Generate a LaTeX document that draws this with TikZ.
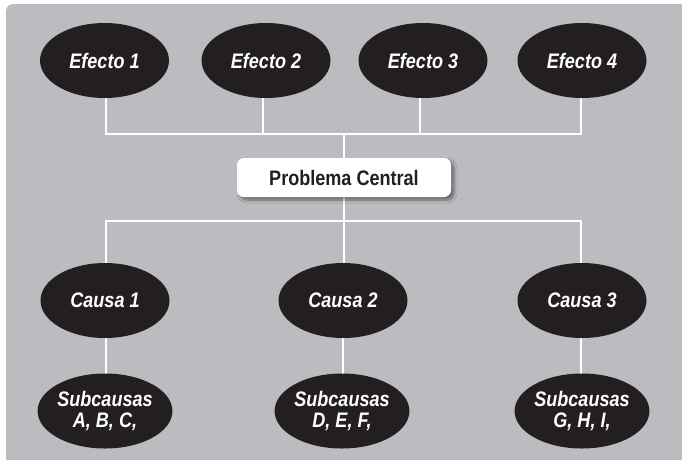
\documentclass[tikz,border=0pt]{standalone}
\usepackage{fontspec}
\setmainfont{Liberation Sans}[FakeStretch=0.86]
\usetikzlibrary{shapes.geometric,shadows.blur}
\definecolor{panel}{HTML}{BBBCC0}
\definecolor{ink}{HTML}{231F20}
\tikzset{
  oval/.style={ellipse, fill=ink, draw=none, minimum width=129pt, minimum height=75pt,
    inner sep=0pt, text=white, align=center,
    font=\fontsize{21pt}{21pt}\selectfont\bfseries\itshape},
  corebox/.style={rectangle, rounded corners=7pt, fill=white, draw=none,
    minimum width=214pt, minimum height=39pt, text=ink,
    font=\fontsize{21pt}{21pt}\selectfont\bfseries,
    blur shadow={shadow xshift=3pt, shadow yshift=-3pt, shadow blur steps=6, shadow blur radius=3pt, shadow opacity=45}},
  link/.style={draw=white, line width=1.8pt}
}
\begin{document}
\begin{tikzpicture}[x=1pt, y=-1pt]
\useasboundingbox (0,0) rectangle (682,459);
\begin{scope}
  \clip (0,0) rectangle (682,459);
  \fill[panel, rounded corners=7pt] (6,4) rectangle (700,480);
\end{scope}

% connectors (drawn first, under the shapes)
\coordinate (jt) at (344,134);
\coordinate (jb) at (344,221);
\draw[link] (106,98) -- (106,134) -- (581,134) -- (581,98);
\draw[link] (263,98) -- (263,134);
\draw[link] (420,98) -- (420,134);
\draw[link] (jt) -- (344,160);
\draw[link] (344,195) -- (jb);
\draw[link] (106,263) -- (106,221) -- (581,221) -- (581,263);
\draw[link] (jb) -- (344,263);
\draw[link] (106,337) -- (106,374);
\draw[link] (343,337) -- (343,374);
\draw[link] (581,337) -- (581,374);

% effects
\node[oval] (e1) at (104.5,60.5) {Efecto 1};
\node[oval] (e2) at (266,60.5) {Efecto 2};
\node[oval] (e3) at (423,60.5) {Efecto 3};
\node[oval] (e4) at (582,60.5) {Efecto 4};

% central problem
\node[corebox] (pc) at (344,177.5) {Problema Central};

% causes
\node[oval] (c1) at (105,300.5) {Causa 1};
\node[oval] (c2) at (343,300.5) {Causa 2};
\node[oval] (c3) at (582,300.5) {Causa 3};

% sub-causes
\node[oval] (s1) at (105,411) {Subcausas\\A, B, C,};
\node[oval] (s2) at (342,411) {Subcausas\\D, E, F,};
\node[oval] (s3) at (582,411) {Subcausas\\G, H, I,};
\end{tikzpicture}
\end{document}
